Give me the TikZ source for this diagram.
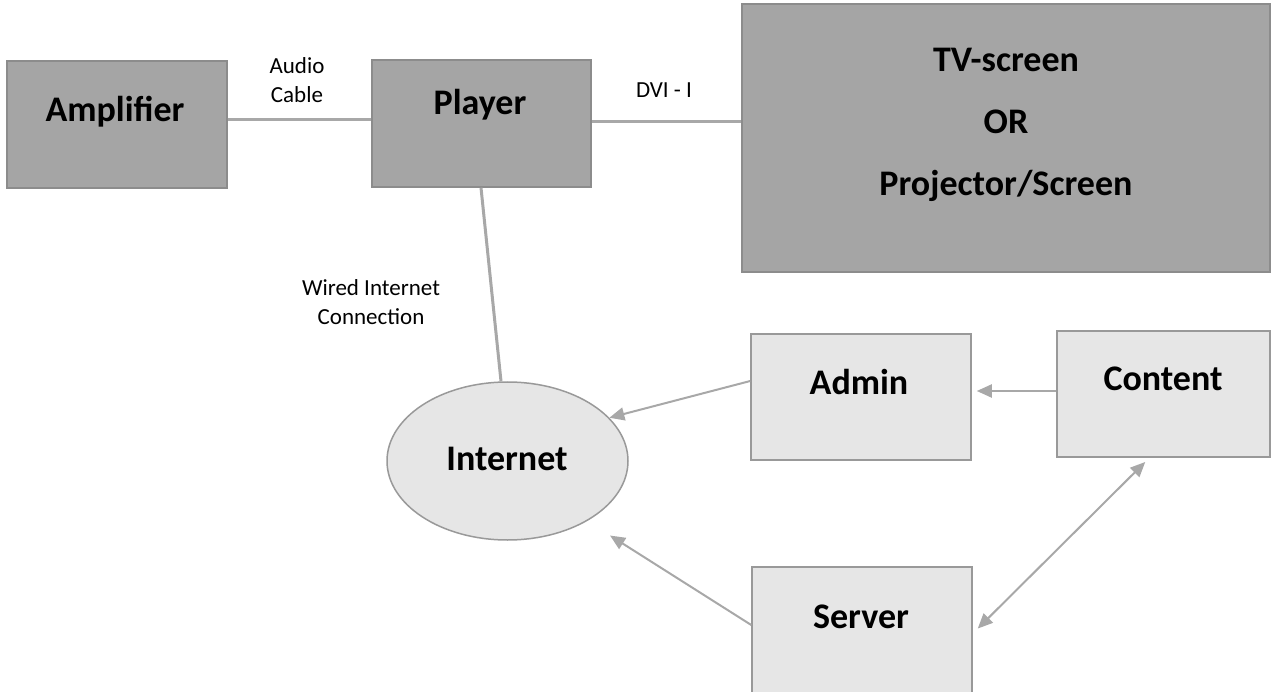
\documentclass[tikz,border=0pt]{standalone}
\usepackage{fontspec}
\setmainfont{Carlito}
\usetikzlibrary{arrows.meta,shapes.geometric}
\definecolor{darkfill}{HTML}{A5A5A5}
\definecolor{darkedge}{HTML}{8C8C8C}
\definecolor{lightfill}{HTML}{E6E6E6}
\definecolor{lightedge}{HTML}{999999}
\definecolor{wiregray}{HTML}{A8A8A8}
\begin{document}
\begin{tikzpicture}[x=1pt,y=-1pt,
  darkbox/.style={draw=darkedge,fill=darkfill,line width=1.5pt,inner sep=0pt},
  lightbox/.style={draw=lightedge,fill=lightfill,line width=1.5pt,inner sep=0pt},
  bigtext/.style={font=\bfseries\fontsize{36}{62}\selectfont,align=center,anchor=base},
  smalltext/.style={font=\fontsize{23}{29}\selectfont,align=center,anchor=base},
  wire/.style={draw=wiregray,line width=3pt},
  arrow/.style={draw=wiregray,line width=2pt,-{Triangle[length=15pt,width=13pt]}},
  twoway/.style={draw=wiregray,line width=2pt,{Triangle[length=15pt,width=13pt]}-{Triangle[length=15pt,width=13pt]}}]

\useasboundingbox (0,0) rectangle (1274,692);

\node[darkbox,minimum width=220,minimum height=127] (amp) at (117,124.5) {};
\node[darkbox,minimum width=219,minimum height=127] (player) at (481.5,123.5) {};
\node[darkbox,minimum width=528,minimum height=268] (tv) at (1006,138) {};
\node[lightbox,ellipse,minimum width=241,minimum height=158] (internet) at (507.5,461) {};
\node[lightbox,minimum width=220,minimum height=126] (admin) at (861,397) {};
\node[lightbox,minimum width=213,minimum height=126] (content) at (1163.5,394) {};
\node[lightbox,minimum width=220,minimum height=133] (server) at (862,633.5) {};

\node[bigtext] (amplabel) at (115,122) {Amplifier};
\node[bigtext] (playerlabel) at (480,115) {Player};
\node[bigtext] (tvlabel) at (1006,196) {TV-screen\\OR\\Projector/Screen};
\node[bigtext] (netlabel) at (507,470) {Internet};
\node[bigtext] (adminlabel) at (859,394) {Admin};
\node[bigtext] (contentlabel) at (1163,391) {Content};
\node[bigtext] (serverlabel) at (861,628) {Server};

\node[smalltext] (audiolabel) at (297,103) {Audio\\Cable};
\node[smalltext] (dvilabel) at (664,98) {DVI - I};
\node[smalltext] (wiredlabel) at (371,325) {Wired Internet\\Connection};

\draw[wire] ([yshift=4.5]amp.east) -- ([yshift=3.5]player.west);
\coordinate (dvi) at ([yshift=1.5]player.east);
\draw[wire] (dvi) -- (dvi -| tv.west);
\draw[wire] ([xshift=-0.5]player.south) -- ([xshift=-6.5]internet.north);

\draw[arrow] ([yshift=16]admin.west) -- (internet.23);
\coordinate (feed) at ([yshift=3]content.west);
\draw[arrow,shorten >=5] (feed) -- (feed -| admin.east);
\draw[arrow,shorten >=27] ([yshift=8.5]server.west) -- (internet.-37);
\draw[twoway,shorten <=6,shorten >=7] ([xshift=-14]content.south) -- (server.east);

\end{tikzpicture}
\end{document}
